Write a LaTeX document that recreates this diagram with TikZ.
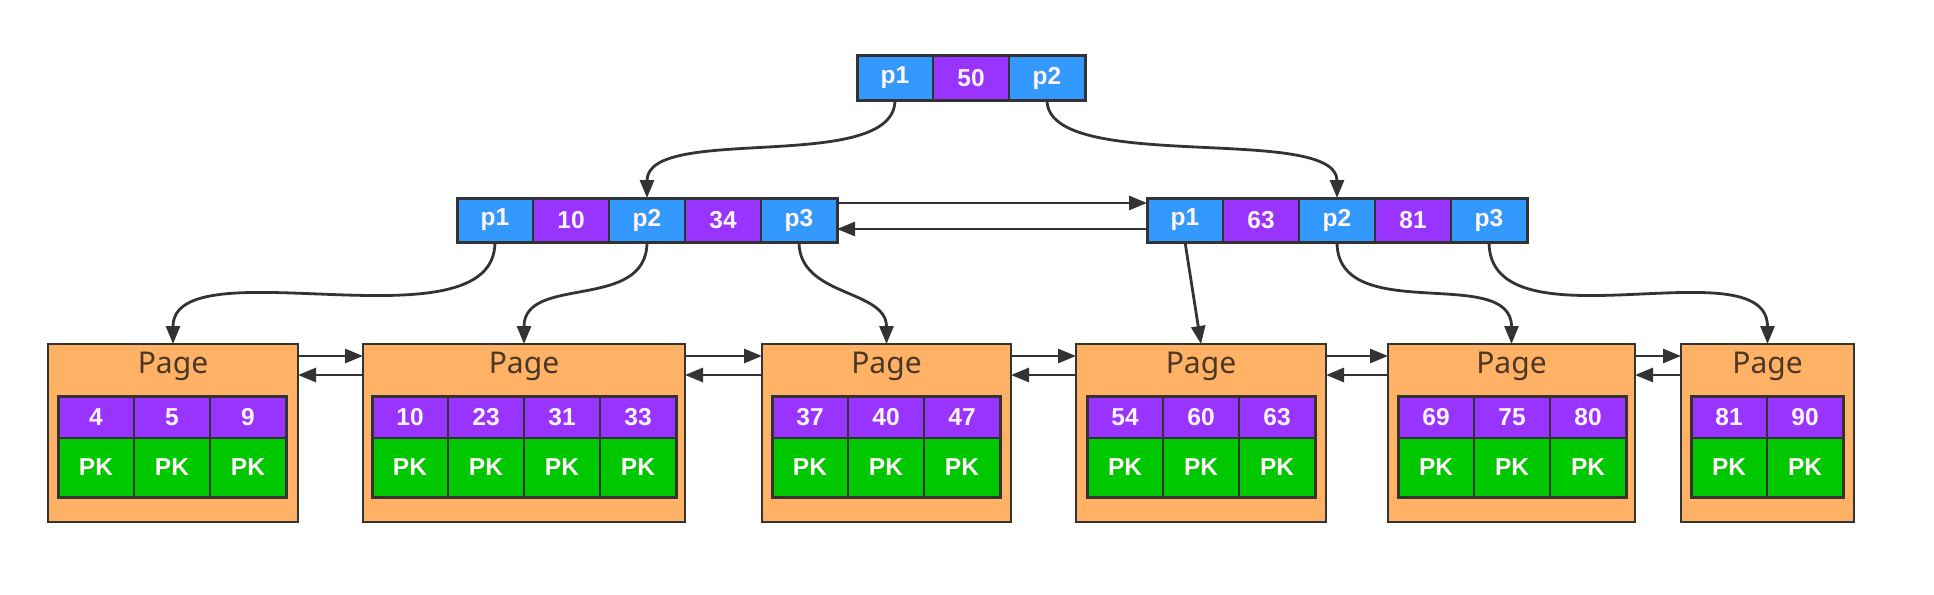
\documentclass[tikz,border=0pt]{standalone}
\usepackage{fontspec}
\setmainfont{Noto Sans}
\newfontfamily\cellfont{Liberation Sans}
\usetikzlibrary{arrows.meta}
\definecolor{cblue}{RGB}{51,153,255}
\definecolor{cpurp}{RGB}{153,51,255}
\definecolor{cgreen}{RGB}{0,200,0}
\definecolor{corange}{RGB}{255,178,102}
\definecolor{cline}{RGB}{51,51,51}
\definecolor{ctext}{RGB}{75,55,38}
\definecolor{ctxtw}{RGB}{255,245,250}
\begin{document}
\begin{tikzpicture}[x=1pt,y=-1pt,
  cell/.style={draw=cline,line width=2pt,minimum width=76pt,minimum height=44pt,inner sep=0pt,outer sep=0pt,text=ctxtw,font=\cellfont\fontsize{24.5}{24.5}\selectfont\bfseries,anchor=north west},
  bc/.style={cell,fill=cblue},
  pc/.style={cell,fill=cpurp},
  kc/.style={cell,fill=cpurp,minimum height=42pt},
  gc/.style={cell,fill=cgreen,minimum height=59pt},
  pagebox/.style={draw=cline,line width=2.8pt,fill=corange,inner sep=0pt,outer sep=0pt,anchor=north west,minimum height=178pt},
  pagelabel/.style={text=ctext,font=\fontsize{30}{30}\selectfont},
  rowframe/.style={draw=cline,line width=3pt},
  link/.style={draw=cline,line width=2.8pt,-{Triangle[length=18pt,width=14pt]}},
]
\useasboundingbox[fill=white] (0,0) rectangle (1934,594);

% root
\node[bc] (r1) at (857,56) {p1};
\node[pc] (r50) at (933,56) {50};
\node[bc] (r2) at (1009,56) {p2};
\draw[rowframe] (r1.north west) rectangle (r2.south east);

% level 2 left
\node[bc] (a1) at (457,198) {p1};
\node[pc] (a10) at (533,198) {10};
\node[bc] (a2) at (609,198) {p2};
\node[pc] (a34) at (685,198) {34};
\node[bc] (a3) at (761,198) {p3};
\draw[rowframe] (a1.north west) rectangle (a3.south east);

% level 2 right
\node[bc] (b1) at (1147,198) {p1};
\node[pc] (b63) at (1223,198) {63};
\node[bc] (b2) at (1299,198) {p2};
\node[pc] (b81) at (1375,198) {81};
\node[bc] (b3) at (1451,198) {p3};
\draw[rowframe] (b1.north west) rectangle (b3.south east);

% pages
\node[pagebox,minimum width=250pt] (pg1) at (48,344) {};
\node[pagebox,minimum width=322pt] (pg2) at (363,344) {};
\node[pagebox,minimum width=249pt] (pg3) at (762,344) {};
\node[pagebox,minimum width=250pt] (pg4) at (1076,344) {};
\node[pagebox,minimum width=247pt] (pg5) at (1388,344) {};
\node[pagebox,minimum width=173pt] (pg6) at (1681,344) {};

\foreach \n in {1,...,6}{
  \node[pagelabel] (pl\n) at ([yshift=-22pt]pg\n.north) {Page};
}

\foreach \k [count=\i from 0] in {4,5,9}{
  \node[kc] (k1\i) at ({58+76*\i},396) {\k};
  \node[gc] (g1\i) at ({58+76*\i},438) {PK};
}
\foreach \k [count=\i from 0] in {10,23,31,33}{
  \node[kc] (k2\i) at ({372+76*\i},396) {\k};
  \node[gc] (g2\i) at ({372+76*\i},438) {PK};
}
\foreach \k [count=\i from 0] in {37,40,47}{
  \node[kc] (k3\i) at ({772+76*\i},396) {\k};
  \node[gc] (g3\i) at ({772+76*\i},438) {PK};
}
\foreach \k [count=\i from 0] in {54,60,63}{
  \node[kc] (k4\i) at ({1087+76*\i},396) {\k};
  \node[gc] (g4\i) at ({1087+76*\i},438) {PK};
}
\foreach \k [count=\i from 0] in {69,75,80}{
  \node[kc] (k5\i) at ({1398+76*\i},396) {\k};
  \node[gc] (g5\i) at ({1398+76*\i},438) {PK};
}
\foreach \k [count=\i from 0] in {81,90}{
  \node[kc] (k6\i) at ({1691+76*\i},396) {\k};
  \node[gc] (g6\i) at ({1691+76*\i},438) {PK};
}
\draw[rowframe] (k10.north west) rectangle (g12.south east);
\draw[rowframe] (k20.north west) rectangle (g23.south east);
\draw[rowframe] (k30.north west) rectangle (g32.south east);
\draw[rowframe] (k40.north west) rectangle (g42.south east);
\draw[rowframe] (k50.north west) rectangle (g52.south east);
\draw[rowframe] (k60.north west) rectangle (g61.south east);

% tree links
\draw[link] (r1.south) .. controls +(0,75) and +(0,-75) .. (a2.north);
\draw[link] (r2.south) .. controls +(0,75) and +(0,-75) .. (b2.north);
\draw[link] (a1.south) .. controls +(0,110) and +(0,-100) .. (pg1.north);
\draw[link] (a2.south) .. controls +(0,70) and +(0,-70) .. (pg2.north);
\draw[link] (a3.south) .. controls +(0,55) and +(0,-55) .. (pg3.north);
\draw[link] (b1.south) -- (pg4.north);
\draw[link] (b2.south) .. controls +(0,85) and +(0,-80) .. (pg5.north);
\draw[link] (b3.south) .. controls +(0,110) and +(0,-100) .. (pg6.north);

% level 2 sibling links
\draw[link] ([yshift=-5pt]a3.north east) -- ([yshift=-5pt]b1.north west);
\draw[link] ([yshift=13pt]b1.south west) -- ([yshift=13pt]a3.south east);

% page sibling links
\foreach \a/\b in {1/2,2/3,3/4,4/5,5/6}{
  \draw[link] ([yshift=-12pt]pg\a.north east) -- ([yshift=-12pt]pg\b.north west);
  \draw[link] ([yshift=-31pt]pg\b.north west) -- ([yshift=-31pt]pg\a.north east);
}
\end{tikzpicture}
\end{document}
